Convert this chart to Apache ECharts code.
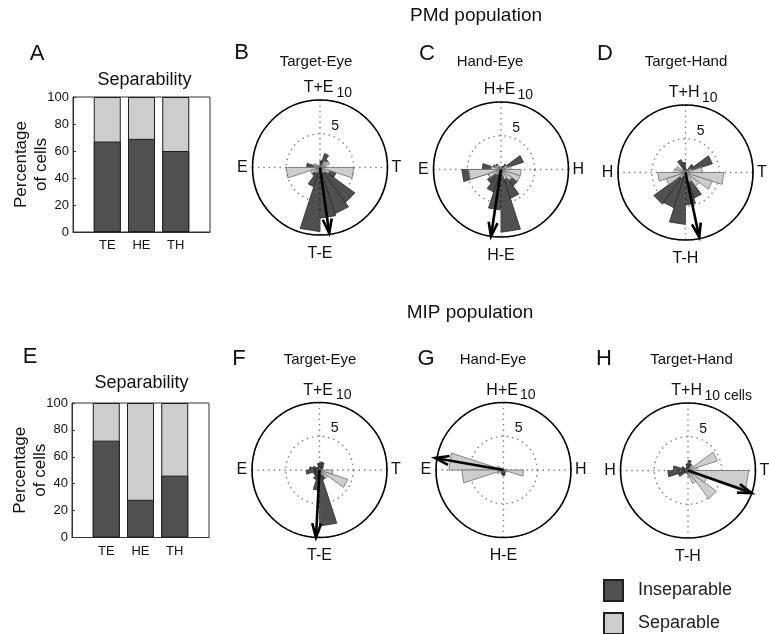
<!DOCTYPE html>
<html><head><meta charset="utf-8">
<script src="https://cdn.jsdelivr.net/npm/echarts@6/dist/echarts.min.js"></script>
<style>html,body{margin:0;padding:0;background:#fff}#c{width:769px;height:634px}</style>
</head><body><div id="c"></div>
<script>
// ================= DATA =================
// Separability bar charts (percentage of cells)
const sepCategories = ['TE', 'HE', 'TH'];
const sepPositions = [1, 2, 3];
const pmdInseparable = [67, 69, 60];
const pmdSeparable = [33, 31, 40];
const mipInseparable = [72, 28, 46];
const mipSeparable = [28, 72, 54];
const percentTicks = [0, 20, 40, 60, 80, 100];

// Rose histograms: bin start angles (deg), 18 deg wide, counts of cells
const binStarts = [0, 18, 36, 54, 72, 90, 108, 126, 144, 162, 180, 198, 216, 234, 252, 270, 288, 306, 324, 342];
const binWidth = 18;

const pmdTE_insep = [0, 0.8, 1.5, 2.2, 1, 0, 0, 0, 0.8, 2, 1, 1, 1.5, 3, 9.5, 7.5, 7.2, 6.4, 2.5, 1];
const pmdTE_sep   = [0.8, 1.5, 1.2, 0, 0, 0, 0, 0.5, 1, 0.8, 5, 1.5, 1, 0.8, 0.5, 0, 0.8, 1, 1.5, 5];
const pmdHE_insep = [1, 3.5, 1, 0.5, 0, 0, 0.5, 1, 1.2, 2.8, 5.8, 2, 2.5, 3.5, 6, 9.3, 4.5, 3, 1.5, 1];
const pmdHE_sep   = [1.5, 1, 0, 0, 0, 0, 0.5, 0.8, 1, 1.5, 4.8, 2, 1, 0.5, 0.5, 0.8, 1.5, 2, 3, 3];
const pmdTH_insep = [0.5, 4.2, 1.5, 0.5, 0.5, 1.5, 2, 0.5, 0.5, 1, 1, 2, 5.8, 5.5, 7.7, 4.8, 4, 1.5, 1, 0.5];
const pmdTH_sep   = [2.5, 1, 0.5, 0, 0, 0, 0, 0.5, 1.5, 1.7, 4.1, 3, 1, 0.5, 0, 0.5, 1.5, 2.5, 4.2, 5.7];
const mipTE_insep = [0.5, 0.5, 0.8, 1.2, 1.2, 1, 0.5, 0.5, 1, 1.5, 2, 1, 1, 1.5, 3, 8.3, 1.5, 1, 0.5, 0.5];
const mipTE_sep   = [0.5, 0, 0, 0, 0, 0, 0, 0, 0, 0, 0, 0, 0, 0, 0, 0, 0.8, 1.5, 4.4, 2];
const mipHE_insep = [0, 0, 0, 0, 0, 0, 0, 0, 0, 0.3, 0.3, 0, 0, 0.6, 0.8, 0.8, 0.5, 0, 0, 0];
const mipHE_sep   = [0.5, 0, 0, 0, 0, 0, 0, 0, 1, 8.1, 6.2, 1, 0, 0, 0, 0, 0, 0, 0.5, 3];
const mipTH_insep = [0.3, 0, 0, 1, 1.5, 1, 0.5, 0, 1, 2.2, 3, 1.5, 0.5, 0, 0.5, 0.5, 0, 0, 0, 0];
const mipTH_sep   = [1.5, 4.6, 1, 0, 0, 0, 0, 0, 0, 0, 0, 0, 0, 0, 0, 1, 2, 5.2, 3, 9];

// Mean vectors: [angle deg, length]
const pmdTE_mean = [278, 9.8];
const pmdHE_mean = [261.5, 10];
const pmdTH_mean = [282, 9.8];
const mipTE_mean = [267, 10];
const mipHE_mean = [170, 10.3];
const mipTH_mean = [340.5, 10];

// Direction labels: [0 deg, 90 deg, 180 deg, 270 deg]
const teLabels = ['T', 'T+E', 'E', 'T-E'];
const heLabels = ['H', 'H+E', 'E', 'H-E'];
const thLabels = ['T', 'T+H', 'H', 'T-H'];
const radiusTickLabels = ['5', '10'];
const radiusTickLabelsCells = ['5', '10 cells'];

// ================= STYLE / LAYOUT =================
const FONT = 'Liberation Sans, Arial, Helvetica, sans-serif';
const DARK = '#505050', DARK_EDGE = '#2a2a2a';
const LIGHT = '#cdcdcd', LIGHT_EDGE = '#707070';
const R = 67.5;

const panels = [
  {center: [320, 167.5], insep: pmdTE_insep, sep: pmdTE_sep, mean: pmdTE_mean, labels: teLabels, rt: radiusTickLabels},
  {center: [501, 169.5], insep: pmdHE_insep, sep: pmdHE_sep, mean: pmdHE_mean, labels: heLabels, rt: radiusTickLabels},
  {center: [685.5, 172.5], insep: pmdTH_insep, sep: pmdTH_sep, mean: pmdTH_mean, labels: thLabels, rt: radiusTickLabels},
  {center: [319.5, 470], insep: mipTE_insep, sep: mipTE_sep, mean: mipTE_mean, labels: teLabels, rt: radiusTickLabels},
  {center: [503.5, 470], insep: mipHE_insep, sep: mipHE_sep, mean: mipHE_mean, labels: heLabels, rt: radiusTickLabels},
  {center: [688, 470.5], insep: mipTH_insep, sep: mipTH_sep, mean: mipTH_mean, labels: thLabels, rt: radiusTickLabelsCells}
];
// label placement in polar units: [radius, angle, align, fontSize]
const labelLayout = [
  [10.6, 0, 'left', 16],
  [11.8, 91, 'center', 16],
  [10.7, 180, 'right', 16],
  [12.7, 270, 'center', 16],
  [6.4, 75, 'left', 14],
  [11.3, 77.5, 'left', 14]
];

function wedgeRenderer(fill, stroke) {
  return function (params, api) {
    const a = api.value(0), r = api.value(1);
    if (!(r > 0)) return null;
    const c = api.coord([0, a]);
    const p1 = api.coord([r, a]);
    const p2 = api.coord([r, a + binWidth]);
    return {type: 'polygon', shape: {points: [c, p1, p2]},
      style: {fill: fill, stroke: stroke, lineWidth: 0.8}};
  };
}
function arrowRenderer(params, api) {
  const a = api.value(0), r = api.value(1);
  const c = api.coord([0, a]);
  const t = api.coord([r, a]);
  const dx = t[0] - c[0], dy = t[1] - c[1];
  const L = Math.hypot(dx, dy) || 1;
  const ux = dx / L, uy = dy / L;
  const hl = 14, hw = 4.5;
  const bx = t[0] - ux * hl, by = t[1] - uy * hl;
  const left = [bx - uy * hw, by + ux * hw], right = [bx + uy * hw, by - ux * hw];
  return {type: 'group', children: [
    {type: 'line', shape: {x1: c[0], y1: c[1], x2: t[0], y2: t[1]}, style: {stroke: '#000', lineWidth: 2.6}},
    {type: 'polyline', shape: {points: [left, t, right]}, style: {stroke: '#000', lineWidth: 2.6, fill: null, lineJoin: 'miter'}}
  ]};
}

const polar = [], angleAxis = [], radiusAxis = [];
const series = [];

// Bars: the separable part sits on top of the inseparable part (drawn as full-height light bar behind the dark one)
const barDefs = [
  {grid: 0, insep: pmdInseparable, sep: pmdSeparable},
  {grid: 1, insep: mipInseparable, sep: mipSeparable}
];
barDefs.forEach(d => {
  series.push({type: 'bar', name: 'Inseparable', xAxisIndex: d.grid, yAxisIndex: d.grid, barWidth: 27, barGap: '-100%', z: 3,
    data: sepPositions.map((x, i) => [x, d.insep[i]]),
    itemStyle: {color: DARK, borderColor: '#1e1e1e', borderWidth: 1}});
  series.push({type: 'bar', name: 'Separable', xAxisIndex: d.grid, yAxisIndex: d.grid, barWidth: 27, barGap: '-100%', z: 2,
    data: sepPositions.map((x, i) => [x, d.insep[i] + d.sep[i]]),
    itemStyle: {color: LIGHT, borderColor: '#1e1e1e', borderWidth: 1}});
});

panels.forEach((p, k) => {
  polar.push({center: p.center, radius: R});
  angleAxis.push({polarIndex: k, type: 'value', min: 0, max: 360, interval: 90, startAngle: 0, clockwise: false, z: 3,
    axisLine: {show: true, lineStyle: {color: '#000', width: 1.6}},
    axisTick: {show: false}, axisLabel: {show: false},
    splitLine: {show: true, lineStyle: {color: '#7a7a7a', width: 1.4, type: [1.4, 4]}}});
  radiusAxis.push({polarIndex: k, type: 'value', min: 0, max: 10, interval: 5, z: 1,
    axisLine: {show: false}, axisTick: {show: false}, axisLabel: {show: false},
    splitLine: {show: true, lineStyle: {color: '#7a7a7a', width: 1.4, type: [1.4, 4]}}});
  series.push({type: 'custom', name: 'Inseparable', coordinateSystem: 'polar', polarIndex: k, z: 2,
    encode: {angle: 0, radius: 1},
    data: binStarts.map((a, i) => [a, p.insep[i]]), renderItem: wedgeRenderer(DARK, DARK_EDGE)});
  series.push({type: 'custom', name: 'Separable', coordinateSystem: 'polar', polarIndex: k, z: 3,
    encode: {angle: 0, radius: 1},
    data: binStarts.map((a, i) => [a, p.sep[i]]), renderItem: wedgeRenderer(LIGHT, LIGHT_EDGE)});
  series.push({type: 'custom', name: 'mean', coordinateSystem: 'polar', polarIndex: k, z: 4,
    encode: {angle: 0, radius: 1},
    data: [p.mean], renderItem: arrowRenderer});
  const texts = p.labels.concat(p.rt);
  series.push({type: 'custom', name: 'labels', coordinateSystem: 'polar', polarIndex: k, z: 5,
    encode: {radius: 0, angle: 1},
    data: labelLayout.map(l => [l[0], l[1]]), renderItem: function (params, api) {
      const i = params.dataIndex;
      const lay = labelLayout[i];
      const pt = api.coord([api.value(0), api.value(1)]);
      return {type: 'text', x: pt[0], y: pt[1], style: {
        text: texts[i], fill: '#111', fontSize: lay[3], fontFamily: FONT,
        align: lay[2], textAlign: lay[2], verticalAlign: 'middle', textVerticalAlign: 'middle'}};
    }});
});

function xAxisFor(g) {
  return {gridIndex: g, type: 'value', min: 0, max: 4, interval: 1,
    axisLine: {show: true, onZero: false, lineStyle: {color: '#333'}},
    axisTick: {show: false}, splitLine: {show: false},
    axisLabel: {fontSize: 13, color: '#111', fontFamily: FONT, margin: 7,
      formatter: v => { const i = sepPositions.indexOf(v); return i >= 0 ? sepCategories[i] : ''; }}};
}
function yAxisFor(g) {
  return {gridIndex: g, type: 'value', min: percentTicks[0], max: percentTicks[percentTicks.length - 1], interval: 20,
    name: 'Percentage\nof cells', nameLocation: 'middle', nameRotate: 90, nameGap: 22, nameMoveOverlap: false,
    nameTextStyle: {fontSize: 17, lineHeight: 20, color: '#111', fontFamily: FONT},
    axisLine: {show: true, lineStyle: {color: '#333'}},
    axisTick: {show: true, inside: true, length: 3, lineStyle: {color: '#333'}},
    axisLabel: {fontSize: 13, color: '#111', fontFamily: FONT, margin: 4},
    splitLine: {show: false}};
}

function txt(x, y, text, size) {
  return {type: 'text', x: x, y: y, style: {text: text, fontSize: size, fontFamily: FONT, fill: '#111',
    align: 'center', textAlign: 'center', verticalAlign: 'middle', textVerticalAlign: 'middle'}};
}
function legendItem(name, top) {
  return {data: [name], left: 603, top: top, padding: 0, itemWidth: 19, itemHeight: 21, icon: 'rect', selectedMode: false,
    textStyle: {fontSize: 18, color: '#222', fontFamily: FONT, padding: [0, 0, 0, 10]}};
}

const chart = echarts.init(document.getElementById('c'), null, {renderer: 'canvas'});
chart.setOption({
  animation: false,
  backgroundColor: '#fff',
  grid: [
    {left: 73, top: 97, width: 137, height: 135, show: true, borderColor: '#333', borderWidth: 1},
    {left: 72, top: 403, width: 137, height: 134.5, show: true, borderColor: '#333', borderWidth: 1}
  ],
  xAxis: [xAxisFor(0), xAxisFor(1)],
  yAxis: [yAxisFor(0), yAxisFor(1)],
  polar: polar,
  angleAxis: angleAxis,
  radiusAxis: radiusAxis,
  legend: [legendItem('Inseparable', 579), legendItem('Separable', 612)],
  graphic: [
    txt(476, 16, 'PMd population', 19),
    txt(470, 313, 'MIP population', 19),
    txt(37, 54, 'A', 22), txt(241.5, 53, 'B', 22), txt(427, 54, 'C', 22), txt(605, 54, 'D', 22),
    txt(30, 357, 'E', 22), txt(239, 359, 'F', 22), txt(426, 359, 'G', 22), txt(604, 359, 'H', 22),
    txt(144.5, 80, 'Separability', 18), txt(141.5, 383, 'Separability', 18),
    txt(316, 62, 'Target-Eye', 15), txt(490, 62, 'Hand-Eye', 15), txt(686, 62, 'Target-Hand', 15),
    txt(320, 360, 'Target-Eye', 15), txt(493, 360, 'Hand-Eye', 15), txt(691.5, 360, 'Target-Hand', 15)
  ],
  series: series
});
</script>
</body></html>
